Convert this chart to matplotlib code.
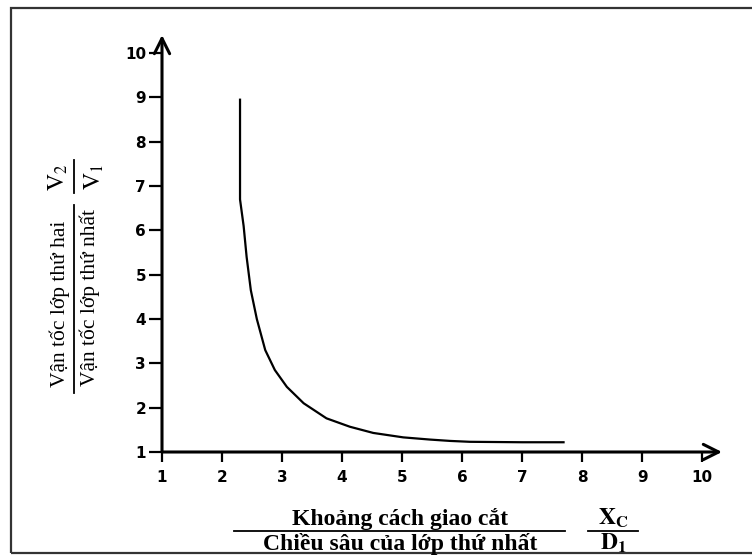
import numpy as np
import matplotlib.pyplot as plt
from matplotlib.lines import Line2D
from matplotlib.patches import Rectangle

# curve: Xc/D1 against V2/V1
xc_d1 = [2.30, 2.30, 2.33, 2.36, 2.41, 2.48, 2.58, 2.72, 2.88, 3.08, 3.36, 3.74,
         4.13, 4.52, 5.02, 5.47, 5.80, 6.13, 7.00, 7.69]
v2_v1 = [8.95, 6.70, 6.40, 6.10, 5.40, 4.65, 4.00, 3.30, 2.85, 2.47, 2.10, 1.76,
         1.57, 1.43, 1.33, 1.28, 1.25, 1.23, 1.22, 1.22]
x_ticks = list(range(1, 11))
y_ticks = list(range(1, 11))

plt.rcParams['mathtext.fontset'] = 'stix'

W, H = 752, 557
fig = plt.figure(figsize=(W / 100, H / 100), dpi=100)

def fx(px):
    return px / W

def fy(py):
    return 1 - py / H

ax = fig.add_axes([fx(162), fy(452), (722 - 162) / W, (452 - 35) / H])
ax.set_xlim(1, 10.33)
ax.set_ylim(1, 10.41)
for s in ax.spines.values():
    s.set_visible(False)

ax.plot(xc_d1, v2_v1, color='black', lw=1.6, solid_joinstyle='round')

# axes drawn as arrows
arr = dict(arrowstyle='->,head_length=1.1,head_width=0.55', lw=2.2, color='black',
           shrinkA=0, shrinkB=0)
ax.annotate('', xy=(1, 0), xytext=(0, 0), xycoords='axes fraction', arrowprops=arr)
ax.annotate('', xy=(0, 1), xytext=(0, 0), xycoords='axes fraction', arrowprops=arr)

ax.set_xticks(x_ticks)
ax.set_yticks(y_ticks)
ax.tick_params(axis='x', direction='out', length=7, width=1.6, pad=6)
ax.tick_params(axis='y', direction='out', length=9.5, width=1.6, pad=2)
for lab in ax.get_xticklabels() + ax.get_yticklabels():
    lab.set_fontfamily('DejaVu Sans')
    lab.set_fontweight('bold')
    lab.set_fontsize(11)

serif = 'Liberation Serif'

# x axis title as a fraction
fig.text(fx(400), fy(525), 'Khoảng cách giao cắt', ha='center', va='baseline',
         family=serif, weight='bold', fontsize=17)
fig.add_artist(Line2D([fx(234), fx(565)], [fy(531), fy(531)], transform=fig.transFigure,
                      color='black', lw=1.3))
fig.text(fx(400), fy(550), 'Chiều sâu của lớp thứ nhất', ha='center', va='baseline',
         family=serif, weight='bold', fontsize=17)
fig.text(fx(613), fy(525), r'$\mathbf{X_C}$', ha='center', va='baseline', fontsize=17)
fig.add_artist(Line2D([fx(588), fx(638)], [fy(531), fy(531)], transform=fig.transFigure,
                      color='black', lw=1.3))
fig.text(fx(613), fy(550), r'$\mathbf{D_1}$', ha='center', va='baseline', fontsize=17)

# y axis title as a fraction (rotated)
fig.text(fx(60), fy(304), 'Vận tốc lớp thứ hai', ha='center', va='center', rotation=90,
         family=serif, fontsize=15.5)
fig.add_artist(Line2D([fx(74), fx(74)], [fy(205), fy(393)], transform=fig.transFigure,
                      color='black', lw=1.3))
fig.text(fx(90), fy(298), 'Vận tốc lớp thứ nhất', ha='center', va='center', rotation=90,
         family=serif, fontsize=15.5)
fig.text(fx(58), fy(177), r'$\mathrm{V_2}$', ha='center', va='center', rotation=90, fontsize=17)
fig.add_artist(Line2D([fx(74), fx(74)], [fy(160), fy(193)], transform=fig.transFigure,
                      color='black', lw=1.3))
fig.text(fx(94), fy(177), r'$\mathrm{V_1}$', ha='center', va='center', rotation=90, fontsize=17)

# outer frame
fig.add_artist(Rectangle((fx(11), fy(553)), 1.2, (553 - 8) / H, transform=fig.transFigure,
                         fill=False, ec='#333333', lw=1.6))

fig.savefig('out.png', dpi=100)
